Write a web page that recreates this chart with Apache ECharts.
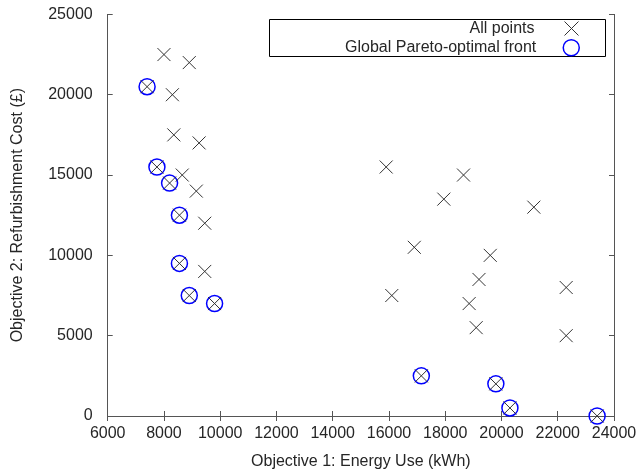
<!DOCTYPE html>
<html><head><meta charset="utf-8">
<script src="https://cdn.jsdelivr.net/npm/echarts@6/dist/echarts.min.js"></script>
<style>html,body{margin:0;padding:0;background:#fff}#c{width:639px;height:472px}</style>
</head><body><div id="c"></div>
<script>
const xTicks = [6000, 24000, 2000];
const yTicks = [0, 25000, 5000];
const allPointsX = [8000, 8900, 7400, 8300, 8350, 9250, 7750, 8650, 8200, 9150, 8550, 9450, 8550, 9450, 8900, 9800,
  15900, 18650, 17950, 21150, 16900, 19600, 19200, 16100, 22300, 18850, 19100, 22300, 17150, 19800, 20300, 23400];
const allPointsY = [22500, 22000, 20500, 20000, 17500, 17000, 15500, 15000, 14500, 14000, 12500, 12000, 9500, 9000, 7500, 7000,
  15500, 15000, 13500, 13000, 10500, 10000, 8500, 7500, 8000, 7000, 5500, 5000, 2500, 2000, 500, 0];
const paretoX = [7400, 7750, 8200, 8550, 8550, 8900, 9800, 17150, 19800, 20300, 23400];
const paretoY = [20500, 15500, 14500, 12500, 9500, 7500, 7000, 2500, 2000, 500, 0];
const seriesNames = ['All points', 'Global Pareto-optimal front'];

const font = 'Liberation Sans, Arial, sans-serif';
const textColor = '#262626';
const chart = echarts.init(document.getElementById('c'), null, {renderer: 'canvas'});
const axisCommon = {
  axisLine: {show: true, lineStyle: {color: '#555', width: 1}},
  axisTick: {show: true, inside: true, length: 5, lineStyle: {color: '#555'}},
  splitLine: {show: false},
  axisLabel: {color: textColor, fontFamily: font, fontSize: 16, formatter: v => String(v)},
  nameTextStyle: {color: textColor, fontFamily: font, fontSize: 16}
};
chart.setOption({
  animation: false,
  grid: {left: 107.7, right: 25, top: 14.4, bottom: 56, containLabel: false, outerBoundsMode: 'none'},
  graphic: [{type: 'rect', left: 269, top: 19, shape: {width: 336, height: 37},
    style: {fill: '#fff', stroke: '#000', lineWidth: 1}, z: 50}],
  legend: [
    {data: [seriesNames[0]], right: 53, top: 14, align: 'right', itemWidth: 14, itemHeight: 14,
      itemStyle: {borderWidth: 1},
      textStyle: {fontFamily: font, fontSize: 16, color: textColor, padding: [0, 25, 0, 0]}, z: 60},
    {data: [seriesNames[1]], right: 54, top: 34, align: 'right', itemWidth: 16, itemHeight: 16,
      itemStyle: {borderWidth: 1.5},
      textStyle: {fontFamily: font, fontSize: 16, color: textColor, padding: [0, 22, 0, 0]}, z: 60}
  ],
  xAxis: [
    Object.assign({}, axisCommon, {type: 'value', min: xTicks[0], max: xTicks[1], interval: xTicks[2],
      name: 'Objective 1: Energy Use (kWh)', nameLocation: 'middle', nameGap: 38,
      axisLabel: Object.assign({}, axisCommon.axisLabel, {margin: 10})}),
    Object.assign({}, axisCommon, {type: 'value', position: 'top', min: xTicks[0], max: xTicks[1], interval: xTicks[2],
      axisLabel: {show: false}})
  ],
  yAxis: [
    Object.assign({}, axisCommon, {type: 'value', min: yTicks[0], max: yTicks[1], interval: yTicks[2],
      name: 'Objective 2: Refurbishment Cost (£)', nameLocation: 'middle', nameGap: 82,
      axisLabel: Object.assign({}, axisCommon.axisLabel, {margin: 15})}),
    Object.assign({}, axisCommon, {type: 'value', position: 'right', min: yTicks[0], max: yTicks[1], interval: yTicks[2],
      axisLabel: {show: false}})
  ],
  series: [
    {name: seriesNames[0], type: 'scatter', xAxisIndex: 0, yAxisIndex: 0,
      symbol: 'path://M0,0L10,10M10,0L0,10', symbolSize: 13,
      itemStyle: {color: 'none', borderColor: '#333', borderWidth: 1, opacity: 1},
      data: allPointsX.map((x, i) => [x, allPointsY[i]]), z: 3},
    {name: seriesNames[1], type: 'scatter', xAxisIndex: 0, yAxisIndex: 0,
      symbol: 'circle', symbolSize: 16,
      itemStyle: {color: 'rgba(0,0,0,0)', borderColor: '#0000ff', borderWidth: 1.5, opacity: 1},
      data: paretoX.map((x, i) => [x, paretoY[i]]), z: 2}
  ]
});
</script></body></html>
